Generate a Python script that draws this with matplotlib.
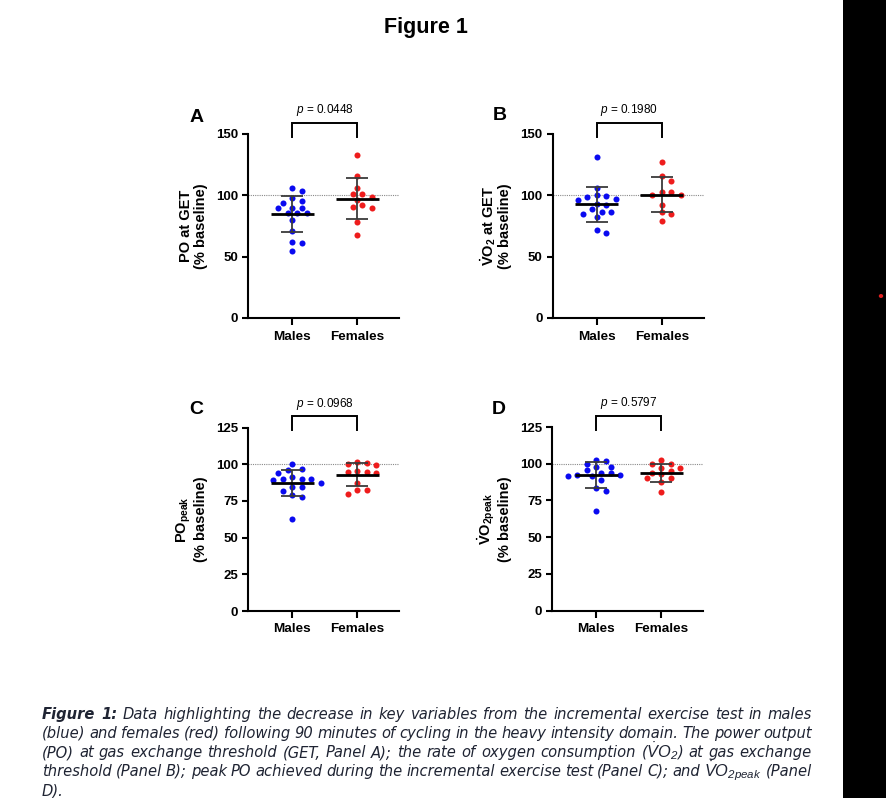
import numpy as np
import matplotlib
matplotlib.use("Agg")
import matplotlib.pyplot as plt
from matplotlib import font_manager
from matplotlib.font_manager import FontProperties
from matplotlib.patches import Rectangle, Circle
from matplotlib.transforms import blended_transform_factory

W, H = 886, 798

groups = ["Males", "Females"]
colors = ["#0a0af0", "#ee1c1c"]

# Panel A - PO at GET (% baseline)
po_get_males = [106.0, 103.8, 97.8, 95.4, 94.0, 89.9, 89.9, 89.4, 85.3, 85.3, 85.3, 80.2, 71.2, 62.0, 61.4, 54.3]
po_get_females = [132.6, 115.8, 105.7, 100.8, 100.8, 98.9, 96.2, 91.9, 90.2, 89.7, 78.3, 67.4]
po_get_mean = [84.8, 97.3]
po_get_sd = [15.0, 16.9]

# Panel B - VO2 at GET (% baseline)
vo2_get_males = [130.9, 106.0, 100.6, 99.8, 99.0, 96.8, 96.0, 93.0, 92.4, 88.6, 86.7, 86.7, 84.8, 82.4, 72.0, 69.3]
vo2_get_females = [127.0, 115.9, 111.8, 102.7, 102.7, 100.0, 100.0, 92.2, 86.4, 84.5, 79.3]
vo2_get_mean = [92.7, 100.5]
vo2_get_sd = [14.2, 14.3]

# Panel C - PO peak (% baseline)
po_peak_males = [99.8, 96.6, 96.1, 94.3, 91.1, 89.8, 89.8, 89.8, 88.9, 87.1, 84.8, 84.8, 81.6, 78.9, 77.5, 62.9]
po_peak_females = [101.8, 100.5, 100.0, 99.5, 95.7, 94.5, 94.5, 94.3, 87.1, 82.5, 82.3, 80.0]
po_peak_mean = [87.3, 92.7]
po_peak_sd = [9.0, 7.8]

# Panel D - VO2 peak (% baseline)
vo2_peak_males = [102.3, 101.8, 99.7, 97.9, 97.9, 95.4, 93.8, 93.4, 92.5, 92.0, 91.8, 91.4, 88.8, 83.4, 81.1, 67.9]
vo2_peak_females = [102.5, 99.5, 99.5, 97.2, 97.2, 94.8, 94.0, 92.9, 90.4, 90.4, 87.7, 80.7]
vo2_peak_mean = [92.2, 93.8]
vo2_peak_sd = [8.7, 6.2]

p_values = ["0.0448", "0.1980", "0.0968", "0.5797"]
panel_letters = ["A", "B", "C", "D"]
y_labels = [
    "PO at GET\n(% baseline)",
    r"$\mathbf{\dot{V}O_2}$ at GET" + "\n(% baseline)",
    r"$\mathbf{PO_{peak}}$" + "\n(% baseline)",
    r"$\mathbf{\dot{V}O_{2peak}}$" + "\n(% baseline)",
]
ticks_get = [0, 50, 100, 150]
ticks_peak = [0, 25, 50, 75, 100, 125]

caption_lines = [
    "Figure 1: Data highlighting the decrease in key variables from the incremental exercise test in males",
    "(blue) and females (red) following 90 minutes of cycling in the heavy intensity domain. The power output",
    r"(PO) at gas exchange threshold (GET, Panel A); the rate of oxygen consumption ($\mathsf{\dot{V}O_2}$) at gas exchange",
    r"threshold (Panel B); peak PO achieved during the incremental exercise test (Panel C); and $\mathsf{\dot{V}O_{2peak}}$ (Panel",
    "D).",
]


def find_narrow(bold):
    """look for an installed narrow / condensed italic sans face"""
    best = None
    for f in font_manager.fontManager.ttflist:
        path = f.fname.lower()
        if not ("narrow" in path or "condensed" in path or "narrow" in f.name.lower()
                or "condensed" in f.name.lower()):
            continue
        if "serif" in path and "sans" not in path:
            continue
        if "mono" in path:
            continue
        if f.style not in ("italic", "oblique"):
            continue
        w = f.weight if isinstance(f.weight, int) else (700 if "bold" in str(f.weight) else 400)
        if (w >= 600) != bold:
            continue
        rank = 0 if "liberation" in path else (1 if "dejavu" in path else 2)
        if best is None or rank < best[0]:
            best = (rank, f.fname)
    return best[1] if best else None


plt.rcParams["font.family"] = ["Liberation Sans", "DejaVu Sans"]
plt.rcParams["mathtext.fontset"] = "custom"
plt.rcParams["mathtext.rm"] = "Liberation Sans"
plt.rcParams["mathtext.it"] = "Liberation Sans:italic"
plt.rcParams["mathtext.bf"] = "Liberation Sans:bold"
plt.rcParams["mathtext.sf"] = "Liberation Sans:italic"

narrow_regular = find_narrow(False)
narrow_bold = find_narrow(True)


def caption_font(bold, size):
    path = narrow_bold if bold else narrow_regular
    if path:
        return FontProperties(fname=path, size=size)
    return FontProperties(family="Liberation Sans", style="italic",
                          weight="bold" if bold else "normal", size=size)


fig = plt.figure(figsize=(W / 100, H / 100), dpi=100)
fig.patch.set_facecolor("white")


def add_axes_px(left, bottom, right, top):
    return fig.add_axes([left / W, 1 - bottom / H, (right - left) / W, (bottom - top) / H])


def swarm(ax, center, values, gx=9.5, gy=6.3):
    """beeswarm-like layout in pixel space, returns x data positions"""
    vals = np.asarray(values, dtype=float)
    pts = ax.transData.transform(np.column_stack([np.full(len(vals), center), vals]))
    cx = pts[0, 0]
    xs_px = np.zeros(len(vals))
    placed = []
    for i in np.argsort(-vals, kind="stable"):
        y = pts[i, 1]
        for k in range(60):
            off = ((k + 1) // 2) * gx / 2 * (1 if k % 2 else -1)
            ok = all(((cx + off - px) / gx) ** 2 + ((y - py) / gy) ** 2 >= 0.95 for px, py in placed)
            if ok:
                break
        placed.append((cx + off, y))
        xs_px[i] = cx + off
    back = ax.transData.inverted().transform(np.column_stack([xs_px, pts[:, 1]]))
    return back[:, 0]


panels = [
    (po_get_males, po_get_females, po_get_mean, po_get_sd, ticks_get, (248, 318, 399, 134), (197, 117)),
    (vo2_get_males, vo2_get_females, vo2_get_mean, vo2_get_sd, ticks_get, (552.5, 318, 703.5, 134), (500, 116)),
    (po_peak_males, po_peak_females, po_peak_mean, po_peak_sd, ticks_peak, (248, 611, 399, 427.5), (196, 409)),
    (vo2_peak_males, vo2_peak_females, vo2_peak_mean, vo2_peak_sd, ticks_peak, (552, 610.5, 703, 427), (499, 409)),
]

for n, (males, females, mean, sd, ticks, box, letter_xy) in enumerate(panels):
    ax = add_axes_px(*box)
    ax.set_facecolor("none")
    ax.set_xlim(-0.68, 1.64)
    ax.set_ylim(0, ticks[-1])
    ax.set_yticks(ticks)
    ax.set_xticks([0, 1], groups)
    ax.spines[["top", "right"]].set_visible(False)
    ax.spines[["left", "bottom"]].set_linewidth(1.5)
    ax.tick_params(axis="y", length=4.2, width=1.5, pad=3, labelsize=9.5)
    ax.tick_params(axis="x", length=5, width=1.5, pad=4, labelsize=9.7)
    for lab in ax.get_xticklabels() + ax.get_yticklabels():
        lab.set_fontweight("bold")

    ax.axhline(100, ls=(0, (1, 1)), color="#8a8a8a", lw=0.8, zorder=1)

    for g, vals in enumerate([males, females]):
        xs = swarm(ax, g, vals)
        ax.scatter(xs, vals, s=19, color=colors[g], linewidths=0, zorder=3)
        ax.errorbar(g, mean[g], yerr=sd[g], fmt="none", ecolor="#3a3a3a",
                    elinewidth=1.3, capsize=8, capthick=1.3, zorder=4)
        ax.hlines(mean[g], g - 0.33, g + 0.33, color="black", lw=2, zorder=5)

    ax.set_ylabel(y_labels[n], fontsize=10.5, fontweight="bold", linespacing=1.05)
    ax.yaxis.set_label_coords(-40 / 151, 0.5)

    tr = blended_transform_factory(ax.transData, ax.transAxes)
    ax.plot([0, 0, 1, 1], [0.985, 1.06, 1.06, 0.985], transform=tr, color="black",
            lw=1.4, clip_on=False, solid_joinstyle="miter")
    ax.text(0.5, 1.13, r"$\mathit{p}$ = " + p_values[n], transform=tr, ha="center",
            va="center", fontsize=8.5)

    fig.text(letter_xy[0] / W, 1 - letter_xy[1] / H, panel_letters[n], fontsize=14,
             fontweight="bold", ha="center", va="center")

fig.text(426 / W, 1 - 28 / H, "Figure 1", fontsize=15.5, fontweight="bold", ha="center", va="center")

# black strip at the right edge
fig.patches.append(Rectangle((843 / W, 0), 1 - 843 / W, 1, transform=fig.transFigure,
                             facecolor="black", edgecolor="none"))
fig.patches.append(Circle((881 / W, 1 - 296 / H), 2.2 / W, transform=fig.transFigure,
                          facecolor="#e02020", edgecolor="none"))

# justified caption
renderer = fig.canvas.get_renderer()
x0, x1 = 42, 812
cap_size = 12.0
cap_color = "#1f2433"
caption_texts = []
for i, line in enumerate(caption_lines):
    row = []
    for j, w in enumerate(line.split(" ")):
        bold = i == 0 and j < 2
        t = fig.text(0, 1 - (719 + 19 * i) / H, w, fontproperties=caption_font(bold, cap_size),
                     color=cap_color, va="baseline", ha="left")
        row.append((t, bold))
    caption_texts.append(row)

probe = fig.text(0, 0, "a a", fontproperties=caption_font(False, cap_size))
probe1 = fig.text(0, 0, "aa", fontproperties=caption_font(False, cap_size))
space_w = probe.get_window_extent(renderer).width - probe1.get_window_extent(renderer).width
probe.remove()
probe1.remove()

widest = max(sum(t.get_window_extent(renderer).width for t, _ in row) + space_w * 0.9 * (len(row) - 1)
             for row in caption_texts)
scale = min(1.35, max(0.7, (x1 - x0) / widest))
for row in caption_texts:
    for t, bold in row:
        t.set_fontproperties(caption_font(bold, cap_size * scale))

for i, row in enumerate(caption_texts):
    widths = [t.get_window_extent(renderer).width for t, _ in row]
    if i < len(caption_texts) - 1 and len(row) > 1:
        gap = (x1 - x0 - sum(widths)) / (len(row) - 1)
    else:
        gap = space_w * scale
    x = x0
    for (t, _), w in zip(row, widths):
        t.set_x(x / W)
        x += w + gap

fig.savefig("out.png", dpi=100, facecolor="white")
